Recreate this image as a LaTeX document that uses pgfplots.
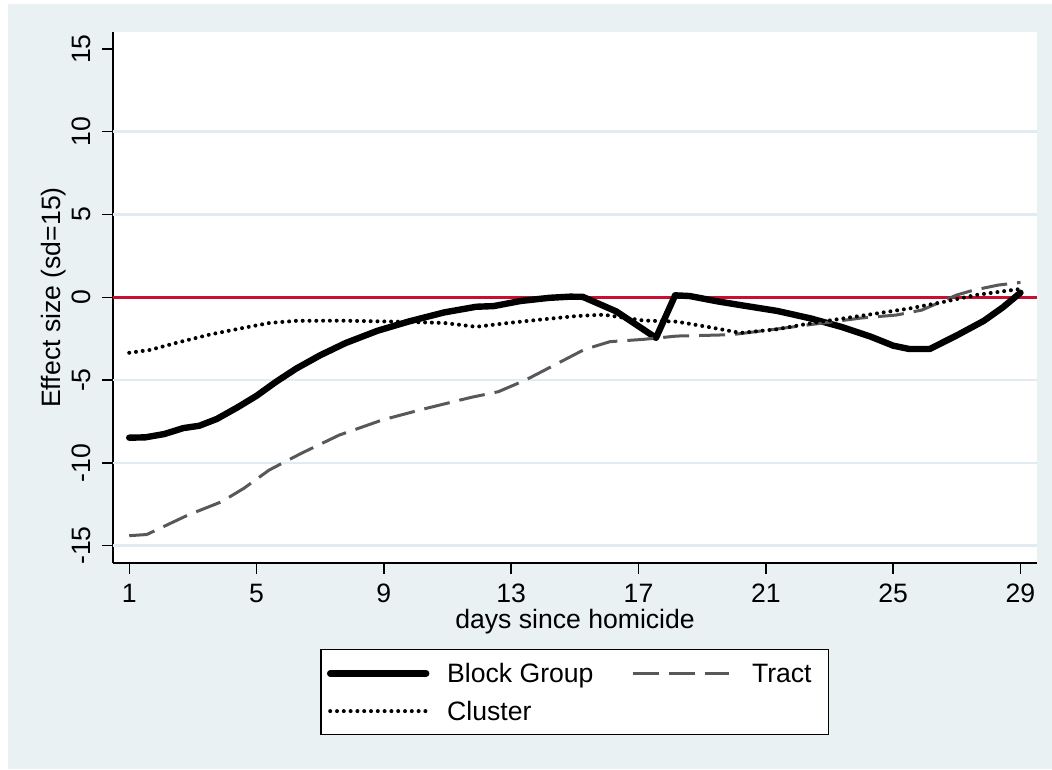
\documentclass[border=0pt]{standalone}
\usepackage{pgfplots}
\pgfplotsset{compat=1.18}
\usepackage{fontspec}
\setmainfont{Liberation Sans}
\definecolor{bgc}{RGB}{233,241,243}
\definecolor{gridc}{RGB}{226,235,239}
\definecolor{redl}{RGB}{200,16,46}
\definecolor{tractc}{RGB}{88,88,88}
\newcommand{\fs}{\fontsize{13.3}{16}\selectfont}
\begin{document}
\begin{tikzpicture}
\useasboundingbox (-56.5pt,-103pt) rectangle (469.5pt,281.5pt);
\fill[white] (-56.5pt,-103pt) rectangle (469.5pt,281.5pt);
\fill[bgc] (-52.5pt,-103pt) rectangle (469.5pt,279.5pt);
\begin{axis}[
  at={(0pt,0pt)}, anchor=south west,
  scale only axis, width=462pt, height=265.5pt,
  xmin=0.49, xmax=29.52, ymin=-16.05, ymax=16.03,
  axis x line=bottom, axis y line=left,
  axis line style={-, black, line width=0.7pt},
  axis background/.style={fill=white},
  tick align=outside, major tick length=5.5pt,
  tick style={black, line width=0.7pt},
  xtick={1,5,...,29}, ytick={-15,-10,...,15},
  minor tick num=0,
  extra y ticks={-15,-10,-5,5,10},
  extra y tick labels={},
  extra y tick style={grid=major, major tick length=0pt},
  major grid style={gridc, line width=1.3pt},
  /pgf/number format/assume math mode=true,
  tick label style={font=\fs},
  xticklabel style={inner sep=0pt, anchor=north, yshift=-5pt},
  yticklabel style={xshift=-5.5pt, rotate=90, anchor=south, inner sep=0pt},
  xlabel={days since homicide}, ylabel={Effect size (sd=15)},
  every axis x label/.style={at={(axis description cs:0.5,0)}, anchor=base, yshift=-33pt, font=\fs},
  every axis y label/.style={at={(axis description cs:0,0.5)}, xshift=-26pt, rotate=90, anchor=base, font=\fs},
  legend columns=2,
  legend cell align=left,
  legend style={at={(axis description cs:0.22446,-0.16252)}, anchor=north west,
    draw=black, line width=0.6pt, fill=white, inner xsep=3pt, inner ysep=7pt,
    row sep=9.35pt, column sep=0pt, font=\fs,
    nodes={inner xsep=2pt, inner ysep=0pt, text height=9.5pt, text depth=0pt}},
  legend image code/.code={\draw[#1] (0pt,0pt) -- (48pt,0pt);},
]
\addplot[redl, line width=1.6pt, forget plot] coordinates {(0.49,0) (29.52,0)};

\addplot[black, line width=3.2pt, line cap=round, line join=round] coordinates {
(1.0,-8.48) (1.5,-8.46) (2.1,-8.26) (2.7,-7.9) (3.2,-7.76) (3.75,-7.35) (4.4,-6.65)
(5.0,-5.95) (5.6,-5.12) (6.25,-4.3) (7.0,-3.5) (7.8,-2.76) (8.8,-2.02) (9.8,-1.45)
(10.9,-0.91) (11.9,-0.57) (12.45,-0.53) (13.3,-0.22) (14.2,-0.03) (14.85,0.04) (15.25,0.03)
(16.3,-0.85) (17.55,-2.45) (18.15,0.12) (18.6,0.08) (19.5,-0.25) (20.3,-0.5) (21.35,-0.82)
(22.4,-1.27) (23.4,-1.8) (24.3,-2.38) (25.0,-2.92) (25.5,-3.12) (26.15,-3.12) (27.0,-2.3)
(27.85,-1.42) (28.45,-0.6) (29.0,0.28)};
\addlegendentry{\makebox[96.8pt][l]{\hspace*{6.9pt}Block Group}}

\addplot[tractc, line width=1.5pt, dash pattern=on 13pt off 5pt] coordinates {
(1.0,-14.4) (1.55,-14.33) (2.85,-13.15) (3.9,-12.35) (4.6,-11.54) (5.4,-10.43) (6.4,-9.43)
(7.6,-8.32) (8.95,-7.41) (10.2,-6.77) (11.75,-6.04) (12.6,-5.7) (13.45,-5.0) (14.45,-4.0)
(15.3,-3.15) (16.1,-2.68) (17.15,-2.54) (18.2,-2.34) (19.5,-2.28) (20.0,-2.24) (21.0,-2.0)
(22.0,-1.75) (23.0,-1.5) (24.0,-1.25) (25.1,-1.07) (25.9,-0.77) (27.0,0.14) (27.5,0.42)
(28.3,0.74) (29.0,0.9)};
\addlegendentry{\makebox[42.1pt][l]{\hspace*{9pt}Tract}}

\addplot[black, line width=2pt, line cap=round, dash pattern=on 0pt off 3.4pt] coordinates {
(1.0,-3.35) (1.65,-3.18) (2.5,-2.74) (3.55,-2.24) (4.6,-1.84) (5.4,-1.55) (6.25,-1.42)
(7.7,-1.41) (9.4,-1.47) (10.9,-1.55) (11.9,-1.78) (13.0,-1.53) (14.0,-1.33) (15.05,-1.13)
(15.9,-1.05) (17.15,-1.4) (18.2,-1.47) (19.25,-1.81) (20.2,-2.15) (21.35,-1.93) (22.4,-1.57)
(23.45,-1.27) (24.5,-0.97) (25.55,-0.66) (26.6,-0.27) (27.6,0.14) (28.9,0.48) (29.0,0.5)};
\addlegendentry{\makebox[96.8pt][l]{\hspace*{6.9pt}Cluster}}
\end{axis}
\end{tikzpicture}
\end{document}
